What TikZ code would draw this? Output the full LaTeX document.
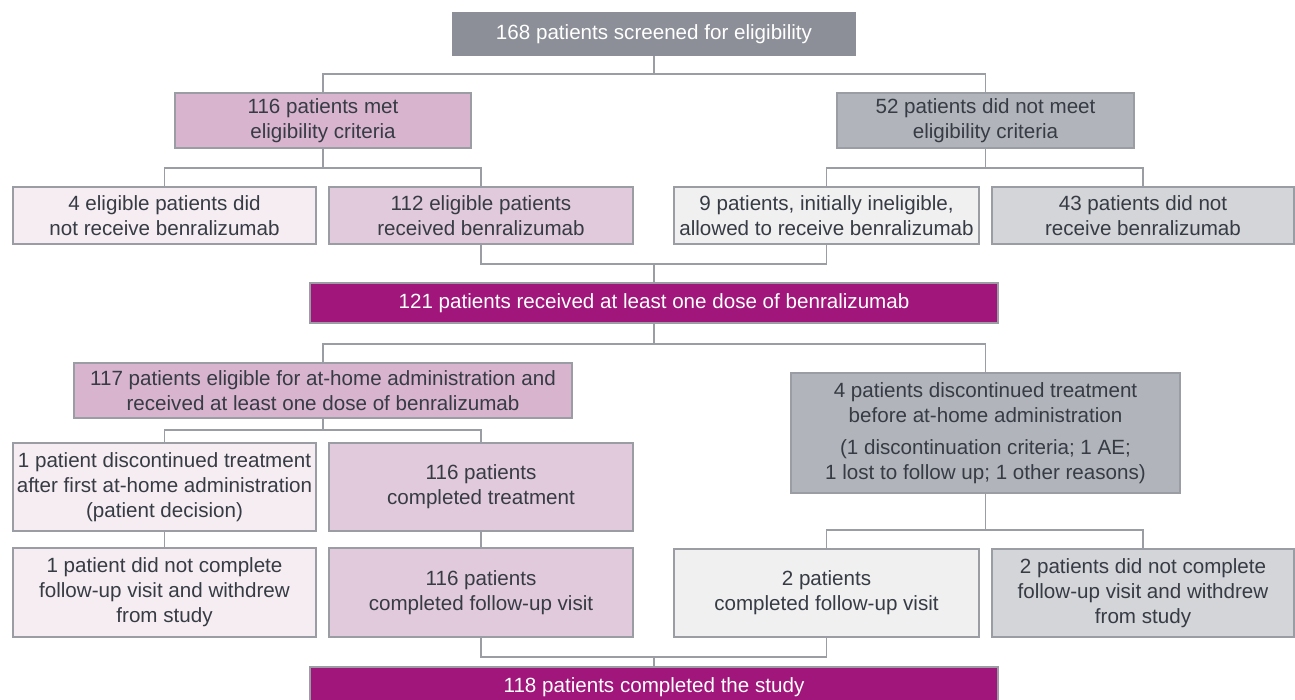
\documentclass[tikz,border=0pt]{standalone}
\usepackage{fontspec}
\setmainfont{Liberation Sans}
\definecolor{frame}{HTML}{9A9DA4}
\definecolor{ink}{HTML}{363B44}
\definecolor{screengray}{HTML}{8C8F98}
\definecolor{mauve}{HTML}{D8B4CF}
\definecolor{mauvelight}{HTML}{E2CADD}
\definecolor{mauvepale}{HTML}{F5EDF2}
\definecolor{slate}{HTML}{B1B4BB}
\definecolor{slatepale}{HTML}{F0F0F1}
\definecolor{slatelight}{HTML}{D4D5D9}
\definecolor{plum}{HTML}{A0167A}
\tikzset{
  box/.style={draw=frame,line width=1.5pt,inner sep=0pt,align=center,text=ink,
    font=\fontsize{20.6}{25}\selectfont},
  link/.style={draw=frame,line width=1.6pt},
  dark/.style={box,fill=plum,text=white}
}
\begin{document}
\begin{tikzpicture}[x=1pt,y=-1pt]
		\useasboundingbox (0,0) rectangle (1295,700);
		% top rows
		\node[box,fill=screengray,draw=screengray,text=white,minimum width=402,minimum height=42] (screen) at (654,34) {168 patients screened for eligibility};
		\node[box,fill=mauve,minimum width=296,minimum height=55] (met) at (323,120.5) {116 patients met\\eligibility criteria};
		\node[box,fill=slate,minimum width=297,minimum height=55] (notmet) at (985.5,120.5) {52 patients did not meet\\eligibility criteria};
		\node[box,fill=mauvepale,minimum width=303,minimum height=57] (noben) at (164.5,215.5) {4 eligible patients did\\not receive benralizumab};
		\node[box,fill=mauvelight,minimum width=304,minimum height=57] (rec) at (481,215.5) {112 eligible patients\\received benralizumab};
		\node[box,fill=slatepale,minimum width=305,minimum height=57] (allow) at (826.5,215.5) {9 patients, initially ineligible,\\allowed to receive benralizumab};
		\node[box,fill=slatelight,minimum width=302,minimum height=57] (norec) at (1143,215.5) {43 patients did not\\receive benralizumab};
		\node[dark,minimum width=688,minimum height=40] (dose) at (654,303) {121 patients received at least one dose of benralizumab};
		% bottom rows
		\node[box,fill=mauve,minimum width=498,minimum height=55] (home) at (323,390.5) {117 patients eligible for at-home administration and\\received at least one dose of benralizumab};
		\node[box,fill=slate,minimum width=389,minimum height=120] (disc) at (985.5,433) {4 patients discontinued treatment\\before at-home administration\\[7pt](1 discontinuation criteria; 1 AE;\\1 lost to follow up; 1 other reasons)};
		\node[box,fill=mauvepale,minimum width=303,minimum height=88] (discone) at (164.5,487) {1 patient discontinued treatment\\after first at-home administration\\(patient decision)};
		\node[box,fill=mauvelight,minimum width=304,minimum height=88] (compl) at (481,487) {116 patients\\completed treatment};
		\node[box,fill=mauvepale,minimum width=303,minimum height=89] (nofuone) at (164.5,592.5) {1 patient did not complete\\follow-up visit and withdrew\\from study};
		\node[box,fill=mauvelight,minimum width=304,minimum height=89] (fu) at (481,592.5) {116 patients\\completed follow-up visit};
		\node[box,fill=slatepale,minimum width=305,minimum height=88] (futwo) at (826.5,593) {2 patients\\completed follow-up visit};
		\node[box,fill=slatelight,minimum width=302,minimum height=88] (nofutwo) at (1143,593) {2 patients did not complete\\follow-up visit and withdrew\\from study};
		\node[dark,minimum width=688,minimum height=40] (study) at (654,687) {118 patients completed the study};
		% connectors
		\draw[link] (screen.south) -- ++(0,18) -| (met.north);
		\draw[link] (screen.south) -- ++(0,18) -| (notmet.north);
		\draw[link] (met.south) -- ++(0,19) -| (noben.north);
		\draw[link] (met.south) -- ++(0,19) -| (rec.north);
		\draw[link] (notmet.south) -- ++(0,19) -| (allow.north);
		\draw[link] (notmet.south) -- ++(0,19) -| (norec.north);
		\draw[link] (rec.south) -- ++(0,19) -| (dose.north);
		\draw[link] (allow.south) -- ++(0,19) -| (dose.north);
		\draw[link] (dose.south) -- ++(0,20) -| (home.north);
		\draw[link] (dose.south) -- ++(0,20) -| (disc.north);
		\draw[link] (home.south) -- ++(0,11) -| (discone.north);
		\draw[link] (home.south) -- ++(0,11) -| (compl.north);
		\draw[link] (discone) -- (nofuone);
		\draw[link] (compl) -- (fu);
		\draw[link] (disc.south) -- ++(0,36) -| (futwo.north);
		\draw[link] (disc.south) -- ++(0,36) -| (nofutwo.north);
		\draw[link] (fu.south) -- ++(0,19) -| (study.north);
		\draw[link] (futwo.south) -- ++(0,19) -| (study.north);
		\end{tikzpicture}
\end{document}
